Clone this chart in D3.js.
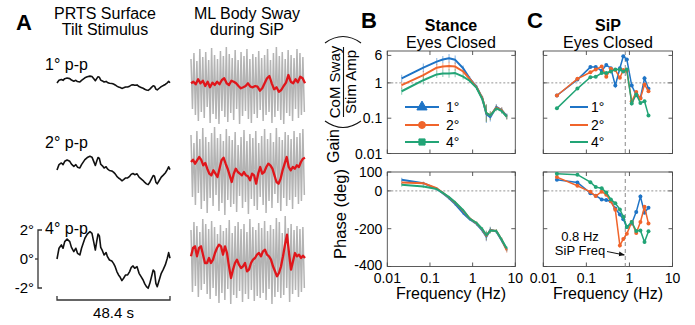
<!DOCTYPE html>
<html>
<head>
<meta charset="utf-8">
<script src="https://cdn.jsdelivr.net/npm/d3@7"></script>
<style>
  body { margin: 0; background: #fff; }
  svg { display: block; font-family: 'Liberation Sans', Arial, Helvetica, sans-serif; }
</style>
</head>
<body>
<svg id="chart" width="695" height="325"></svg>
<script>
// ---- panel A : stimulus (4 deg p-p shape, deg), other rows scaled by amplitude
var stimAmps = [1, 2, 4];
var stimTime = [0, 0.86, 1.87, 2.59, 3.31, 4.32, 5.47, 6.19, 7.20, 8.07, 8.78, 9.79, 10.51, 11.95, 12.96, 14.12,
  14.98, 15.85, 16.42, 17.00, 17.57, 18.15, 18.73, 19.45, 20.17, 21.03, 21.61, 22.47, 23.48, 24.20, 24.92,
  25.64, 26.36, 27.08, 27.80, 28.52, 29.39, 30.25, 31.11, 31.83, 32.56, 33.28, 34.28, 35.15, 36.01, 36.88,
  37.60, 38.32, 39.04, 39.76, 40.48, 41.20, 41.77, 42.35, 42.93, 43.79, 44.66, 45.52, 46.38, 47.25, 47.82, 48.40];
var stimDeg = [0, 0.74, 0.97, 0.74, 1.20, 1.38, 1.20, 0.80, 0.51, 0.74, 0.39, 0.28, 0.74, 1.43, 1.72, 1.89,
  1.77, 1.08, 0.62, 1.20, 1.72, 1.59, 0.80, 0.57, 0.28, 0.44, 0.16, -0.07, -0.14, -0.30, -0.53,
  -0.87, -1.10, -1.26, -1.49, -1.33, -1.10, -1.10, -0.87, -0.57, -0.48, -0.64, -0.53, -0.99, -1.22, -1.45,
  -1.72, -1.91, -2.02, -1.68, -1.22, -0.76, -0.87, -1.68, -1.91, -1.45, -0.99, -0.71, -0.41, 0.05, 0.44, 0.05];

// ---- panel A : ML body sway (arbitrary units), SiP oscillation peaks/troughs per cycle + low-pass (red)
var sipFreq = 0.8;
var swayPeaks = [
  [2.6,3.2,2.4,3.6,2.8,3.3,2.5,3.7,3.0,2.6,3.4,2.9,3.8,3.1,2.7,3.5,2.5,3.3,2.9,3.6,2.6,3.1,2.8,3.4,2.7,3.0,3.6,2.5,3.2,3.8,2.9,3.3,2.6,3.5,3.0,2.7,3.6,3.2,2.8],
  [3.2,2.4,3.6,2.8,3.9,3.0,2.5,3.4,4.0,2.9,3.3,2.6,3.8,3.1,2.7,3.5,2.2,3.0,3.7,2.6,3.3,2.9,3.6,2.4,3.1,3.8,2.8,3.4,2.5,3.9,3.0,2.7,3.5,3.2,2.8,3.6,3.0,3.4,3.8],
  [2.8,3.6,3.2,2.6,3.9,3.4,2.9,3.7,3.1,2.4,3.3,2.7,3.0,3.8,2.5,3.2,3.6,2.9,3.4,2.6,3.9,3.1,2.8,3.5,3.0,3.7,2.7,3.3,2.9,4.0,3.6,2.5,4.2,3.0,3.4,2.8,3.2,2.9,3.1]
];
var swayTroughs = [
  [-2.4,-3.0,-3.6,-2.7,-3.3,-2.2,-3.8,-2.9,-3.4,-3.9,-2.6,-3.2,-3.7,-2.8,-3.5,-2.4,-3.9,-3.1,-2.6,-3.4,-3.8,-2.9,-3.3,-2.5,-3.6,-3.0,-2.7,-3.8,-3.2,-2.6,-3.5,-3.9,-2.8,-3.1,-3.6,-2.4,-3.3,-3.0,-2.7],
  [-3.0,-3.8,-2.6,-4.2,-3.4,-4.6,-3.1,-3.9,-2.8,-4.4,-3.6,-4.8,-3.3,-4.0,-3.7,-4.5,-2.9,-4.1,-3.5,-4.7,-3.2,-3.9,-4.3,-3.0,-3.8,-4.6,-3.4,-4.1,-2.7,-3.6,-4.4,-3.1,-3.9,-3.3,-4.2,-3.0,-3.7,-3.4,-2.8],
  [-3.4,-2.8,-3.9,-3.2,-2.6,-3.6,-4.1,-3.0,-3.8,-4.5,-3.5,-4.2,-3.1,-4.6,-3.7,-4.0,-3.3,-4.4,-3.6,-4.1,-3.2,-4.3,-3.8,-4.0,-3.5,-4.2,-3.1,-4.6,-3.9,-3.4,-4.0,-3.7,-3.0,-4.4,-3.6,-3.2,-3.9,-3.4,-3.0]
];
var swayLow = [
  [0.17,0.33,0.07,0.57,0.17,0.43,-0.1,0.33,-0.23,0.23,0,0.33,0.07,0.5,0.67,0.17,0,0.43,0.33,0.17,-0.1,-0.33,-0.23,-0.1,0.17,-0.17,-0.23,-0.1,-0.17,-0.57,-0.33,0.17,0.67,0.9,0.17,-0.43,-0.23,-0.67,-0.5,-0.1,0.23,1.0,0.33,0.17,0.57,0.27,0.83,0.67,0.17],
  [0.5,0.73,0.33,0.67,1.0,0.73,0.17,0.4,-0.17,-0.67,-0.83,-0.33,-0.67,-1.0,-0.17,0.67,0.93,0.33,-0.17,-0.83,-1.5,-0.67,-0.17,-0.5,-0.67,-0.83,-0.5,-0.83,-0.93,-1.33,-0.67,-0.83,-1.67,-0.67,0,-0.67,-0.5,0,0.33,0.17,-0.17,-0.83,-1.5,-1.67,-1.17,-0.33,0.33,1.0,0,-0.33,0,-0.17,0.17,0,0.5,0.83,0.93],
  [0.17,1.0,1.17,0.17,1.0,1.17,0.33,-0.5,-0.5,0,-0.5,-0.17,0.5,1.0,1.33,1.17,0.33,1.17,0.5,-0.83,-2.0,-1.17,-0.5,-0.17,-0.67,-1.0,-0.83,-0.5,-1.33,-1.17,-0.5,-0.17,0,0.33,0.5,0.17,0.67,0.83,0.33,0.17,-0.17,-0.83,-1.33,-1.83,-1.5,-0.83,0.17,1.33,2.33,0.5,-1.17,-0.33,0.5,0.17,0.33,0,0.23,0]
];

// ---- panel B : stance, eyes closed
var bFreq = [0.0217, 0.07, 0.144, 0.2, 0.28, 0.39, 0.6, 0.85, 1.24, 1.7, 2.1, 2.6, 3.6, 4.8, 6.3];
var bGain = [
  [1.34, 2.7, 4.0, 4.6, 5.0, 4.5, 2.6, 1.34, 0.77, 0.36, 0.13, 0.107, 0.21, 0.17, 0.114],
  [0.86, 1.66, 2.7, 2.9, 3.0, 2.9, 2.1, 1.3, 0.75, 0.36, 0.14, 0.12, 0.2, 0.17, 0.11],
  [0.58, 1.19, 1.74, 1.85, 1.85, 1.9, 1.5, 1.15, 0.72, 0.34, 0.14, 0.12, 0.19, 0.16, 0.11]
];
var bPhase = [
  [59, 41, 11, -12, -39, -70, -118, -150, -175, -210, -242, -205, -215, -262, -310],
  [44, 41, 14, -10, -35, -62, -105, -145, -172, -205, -238, -208, -212, -258, -315],
  [32, 23, 10, -10, -33, -60, -102, -146, -170, -203, -235, -210, -212, -258, -305]
];
var bGainErr = [0.1, 0.12, 0.1, 0.1, 0.12, 0.12, 0.08, 0.06, 0.06, 0.08, 0.25, 0.12, 0.08, 0.08, 0.08];
var bPhaseErr = [10, 8, 6, 6, 8, 8, 8, 8, 10, 12, 25, 15, 10, 10, 12];

// ---- panel C : SiP, eyes closed
var cFreq = [0.0207, 0.062, 0.124, 0.165, 0.227, 0.29, 0.37, 0.47, 0.6, 0.72, 0.87, 1.13, 1.44, 1.8, 2.24, 2.77];
var cGain = [
  [0.44, 1.24, 2.8, 2.8, 2.2, 3.2, 2.6, 0.84, 2.6, 5.7, 4.6, 0.84, 0.45, 0.38, 1.35, 0.68],
  [0.44, 1.3, 2.0, 2.4, 2.9, 1.5, 2.5, 2.3, 1.4, 2.3, 2.2, 0.3, 0.55, 0.36, 0.9, 0.58],
  [0.19, 0.69, 1.44, 1.5, 1.9, 1.9, 2.1, 2.4, 2.4, 2.1, 2.4, 0.26, 0.47, 0.27, 0.3, 0.12]
];
var cPhase = [
  [59, 45, -12, -25, -45, -48, -55, -93, -125, -150, -191, -173, -111, -30, -115, -89],
  [73, 27, -5, -27, -4, -20, -55, -100, -289, -254, -227, -164, -223, -164, -84, -173],
  [91, 86, 46, 20, 14, -9, -45, -66, -98, -137, -191, -164, -212, -209, -271, -214]
];

var seriesNames = ["1°", "2°", "4°"];
var colors = ["#1f74c6", "#f0642b", "#22a476"];
var gainTicks = [0.01, 0.1, 1, 6];
var phaseTicks = [-400, -200, 0, 100];
var freqTicks = [0.01, 0.1, 1, 10];

var svg = d3.select("#chart");
var frameColor = "#4a4a4a";

// ---------------- panel A ----------------
svg.append("text").attr("x", 16).attr("y", 30).attr("font-size", 22).attr("font-weight", "bold").text("A");
svg.append("text").attr("x", 105).attr("y", 19).attr("font-size", 16).attr("text-anchor", "middle").text("PRTS Surface");
svg.append("text").attr("x", 105).attr("y", 35).attr("font-size", 16).attr("text-anchor", "middle").text("Tilt Stimulus");
svg.append("text").attr("x", 247).attr("y", 19).attr("font-size", 16).attr("text-anchor", "middle").text("ML Body Sway");
svg.append("text").attr("x", 247).attr("y", 35).attr("font-size", 16).attr("text-anchor", "middle").text("during SiP");

var xStim = d3.scaleLinear().domain([0, 48.4]).range([57, 170]);
var xSway = d3.scaleLinear().domain([0, 48.4]).range([191, 305]);
var stimZero = [83, 170, 259];
var stimLabelY = [70, 148, 234];
var swayZero = [85, 167, 258];

stimAmps.forEach(function (amp, r) {
  var y = d3.scaleLinear().domain([-2, 2]).range([stimZero[r] + 29, stimZero[r] - 29]);
  var pts = stimTime.map(function (t, i) { return [xStim(t), y(stimDeg[i] * amp / 4)]; });
  svg.append("path").attr("d", d3.line()(pts)).attr("fill", "none")
    .attr("stroke", "#111").attr("stroke-width", 1.6).attr("stroke-linejoin", "round");
  svg.append("text").attr("x", 45).attr("y", stimLabelY[r]).attr("font-size", 16).text(amp + "° p-p");

  // sway: SiP oscillation (grey) and low-pass (red)
  var ys = d3.scaleLinear().domain([-1, 1]).range([swayZero[r] + 10, swayZero[r] - 10]);
  var period = 1 / sipFreq, grey = [];
  swayPeaks[r].forEach(function (p, k) {
    grey.push([xSway(k * period), ys(p)]);
    grey.push([xSway(k * period + period / 2), ys(swayTroughs[r][k])]);
  });
  svg.append("path").attr("d", d3.line()(grey)).attr("fill", "none")
    .attr("stroke", "#b4b4b4").attr("stroke-width", 1.5);
  var n = swayLow[r].length;
  var red = swayLow[r].map(function (v, i) { return [xSway(i * 48.4 / (n - 1)), ys(v)]; });
  svg.append("path").attr("d", d3.line()(red)).attr("fill", "none")
    .attr("stroke", "#e0161b").attr("stroke-width", 2.3).attr("stroke-linejoin", "round");
});

// stimulus amplitude scale bracket and time bar
var yScaleBar = d3.scaleLinear().domain([-2, 2]).range([stimZero[2] + 29, stimZero[2] - 29]);
var sb = svg.append("g").attr("stroke", "#333").attr("stroke-width", 1.3).attr("fill", "none");
sb.append("path").attr("d", "M42," + yScaleBar(2) + "H38V" + yScaleBar(-2) + "H42");
sb.append("line").attr("x1", 35).attr("x2", 38).attr("y1", yScaleBar(0)).attr("y2", yScaleBar(0));
[2, 0, -2].forEach(function (v) {
  svg.append("text").attr("x", 34).attr("y", yScaleBar(v) + 5).attr("font-size", 15)
    .attr("text-anchor", "end").text(v + "°");
});
sb.append("path").attr("d", "M" + xStim(0) + ",296V300H" + xStim(48.4) + "V296");
svg.append("text").attr("x", (xStim(0) + xStim(48.4)) / 2).attr("y", 318).attr("font-size", 15)
  .attr("text-anchor", "middle").text("48.4 s");

// ---------------- panels B and C ----------------
var xB = d3.scaleLog().domain([0.01, 10]).range([387.3, 515.3]);
var xC = d3.scaleLog().domain([0.01, 10]).range([543.3, 672.5]);
var yGain = d3.scaleLog().domain([0.01, 8]).range([153.5, 51]);
var yPhase = d3.scaleLinear().domain([-400, 100]).range([266.5, 172]);

function frame(x, y, yTicks, refVal, yLabels, xLabels) {
  var g = svg.append("g");
  var x0 = x.range()[0], x1 = x.range()[1], yb = y.range()[0], yt = y.range()[1];
  g.append("line").attr("x1", x0).attr("x2", x1).attr("y1", y(refVal)).attr("y2", y(refVal))
    .attr("stroke", "#888").attr("stroke-width", 0.9).attr("stroke-dasharray", "2,2");
  var t = g.append("g").attr("stroke", frameColor).attr("stroke-width", 0.9);
  freqTicks.forEach(function (f) {
    t.append("line").attr("x1", x(f)).attr("x2", x(f)).attr("y1", yb).attr("y2", yb - 4);
    t.append("line").attr("x1", x(f)).attr("x2", x(f)).attr("y1", yt).attr("y2", yt + 4);
    if (xLabels) {
      svg.append("text").attr("x", x(f)).attr("y", yb + 16).attr("font-size", 14)
        .attr("text-anchor", "middle").text(f);
    }
  });
  yTicks.forEach(function (v) {
    t.append("line").attr("x1", x0).attr("x2", x0 + 4).attr("y1", y(v)).attr("y2", y(v));
    t.append("line").attr("x1", x1).attr("x2", x1 - 4).attr("y1", y(v)).attr("y2", y(v));
    if (yLabels) {
      svg.append("text").attr("x", x0 - 5).attr("y", y(v) + (v === -400 ? 3 : 5)).attr("font-size", 14)
        .attr("text-anchor", "end").text(v);
    }
  });
  t.append("rect").attr("x", x0).attr("y", yt).attr("width", x1 - x0).attr("height", yb - yt)
    .attr("fill", "none");
  return g;
}

function clip(id, x, y) {
  svg.append("clipPath").attr("id", id).append("rect")
    .attr("x", x.range()[0]).attr("y", y.range()[1])
    .attr("width", x.range()[1] - x.range()[0]).attr("height", y.range()[0] - y.range()[1]);
}
clip("cbg", xB, yGain); clip("cbp", xB, yPhase); clip("ccg", xC, yGain); clip("ccp", xC, yPhase);

frame(xB, yGain, gainTicks, 1, true, false);
frame(xB, yPhase, phaseTicks, 0, true, true);
frame(xC, yGain, gainTicks, 1, false, false);
frame(xC, yPhase, phaseTicks, 0, false, true);

// SiP frequency marker
svg.append("line").attr("x1", xC(sipFreq)).attr("x2", xC(sipFreq)).attr("y1", yGain.range()[1]).attr("y2", yGain.range()[0])
  .attr("stroke", "#888").attr("stroke-width", 1).attr("stroke-dasharray", "4,3");
svg.append("line").attr("x1", xC(sipFreq)).attr("x2", xC(sipFreq)).attr("y1", yPhase.range()[1]).attr("y2", yPhase.range()[0])
  .attr("stroke", "#888").attr("stroke-width", 1).attr("stroke-dasharray", "4,3");

// B: stance curves with error bars
[[bGain, yGain, "cbg", bGainErr, true], [bPhase, yPhase, "cbp", bPhaseErr, false]].forEach(function (cfg) {
  var data = cfg[0], y = cfg[1], err = cfg[3], isLog = cfg[4];
  var g = svg.append("g").attr("clip-path", "url(#" + cfg[2] + ")");
  data.forEach(function (vals, s) {
    vals.forEach(function (v, i) {
      var lo = isLog ? v / Math.pow(10, err[i]) : v - err[i];
      var hi = isLog ? v * Math.pow(10, err[i]) : v + err[i];
      g.append("line").attr("x1", xB(bFreq[i])).attr("x2", xB(bFreq[i])).attr("y1", y(lo)).attr("y2", y(hi))
        .attr("stroke", colors[s]).attr("stroke-opacity", 0.45).attr("stroke-width", 1.2);
    });
  });
  data.forEach(function (vals, s) {
    var line = d3.line().x(function (d, i) { return xB(bFreq[i]); }).y(function (d) { return y(d); });
    g.append("path").attr("d", line(vals)).attr("fill", "none")
      .attr("stroke", colors[s]).attr("stroke-width", 2).attr("stroke-linejoin", "round");
  });
});

// C: SiP curves with dot markers
[[cGain, yGain, "ccg"], [cPhase, yPhase, "ccp"]].forEach(function (cfg) {
  var y = cfg[1];
  var g = svg.append("g").attr("clip-path", "url(#" + cfg[2] + ")");
  cfg[0].forEach(function (vals, s) {
    var line = d3.line().x(function (d, i) { return xC(cFreq[i]); }).y(function (d) { return y(d); });
    g.append("path").attr("d", line(vals)).attr("fill", "none")
      .attr("stroke", colors[s]).attr("stroke-width", 1.5);
    g.selectAll(null).data(vals).enter().append("circle")
      .attr("cx", function (d, i) { return xC(cFreq[i]); }).attr("cy", function (d) { return y(d); })
      .attr("r", 2).attr("fill", colors[s]);
  });
});

// legends
var legY = [107, 125, 142];
var markers = [d3.symbolTriangle, d3.symbolCircle, d3.symbolSquare];
seriesNames.forEach(function (name, s) {
  svg.append("line").attr("x1", 405).attr("x2", 439).attr("y1", legY[s]).attr("y2", legY[s])
    .attr("stroke", colors[s]).attr("stroke-width", 2);
  svg.append("path").attr("d", d3.symbol().type(markers[s]).size(s === 0 ? 45 : 38)())
    .attr("transform", "translate(422," + legY[s] + ")").attr("fill", colors[s]).attr("stroke", colors[s]);
  svg.append("text").attr("x", 446).attr("y", legY[s] + 5).attr("font-size", 14).text(name);

  svg.append("line").attr("x1", 570).attr("x2", 588).attr("y1", legY[s]).attr("y2", legY[s])
    .attr("stroke", colors[s]).attr("stroke-width", 2);
  svg.append("text").attr("x", 591).attr("y", legY[s] + 5).attr("font-size", 14).text(name);
});

// titles
svg.append("text").attr("x", 361).attr("y", 28).attr("font-size", 22).attr("font-weight", "bold").text("B");
svg.append("text").attr("x", 451).attr("y", 31).attr("font-size", 16).attr("font-weight", "bold").attr("text-anchor", "middle").text("Stance");
svg.append("text").attr("x", 451).attr("y", 48).attr("font-size", 16).attr("text-anchor", "middle").text("Eyes Closed");
svg.append("text").attr("x", 527).attr("y", 28).attr("font-size", 22).attr("font-weight", "bold").text("C");
svg.append("text").attr("x", 608).attr("y", 31).attr("font-size", 16).attr("font-weight", "bold").attr("text-anchor", "middle").text("SiP");
svg.append("text").attr("x", 608).attr("y", 48).attr("font-size", 16).attr("text-anchor", "middle").text("Eyes Closed");

// y labels for B
function vtext(x, y, str, size) {
  svg.append("text").attr("transform", "translate(" + x + "," + y + ") rotate(-90)")
    .attr("font-size", size).attr("text-anchor", "middle").text(str);
}
vtext(339, 146, "Gain", 16);
vtext(339.5, 82, "CoM Sway", 15);
vtext(356, 82, "Stim Amp", 15);
svg.append("line").attr("x1", 343.5).attr("x2", 343.5).attr("y1", 47).attr("y2", 117)
  .attr("stroke", "#111").attr("stroke-width", 1.1);
svg.append("path").attr("d", "M325,43Q343,30 361,43").attr("fill", "none").attr("stroke", "#111").attr("stroke-width", 1.1);
svg.append("path").attr("d", "M325,121Q343,134 361,121").attr("fill", "none").attr("stroke", "#111").attr("stroke-width", 1.1);
vtext(346, 214, "Phase (deg)", 16.5);

svg.append("text").attr("x", 451).attr("y", 299).attr("font-size", 16).attr("text-anchor", "middle").text("Frequency (Hz)");
svg.append("text").attr("x", 608).attr("y", 299).attr("font-size", 16).attr("text-anchor", "middle").text("Frequency (Hz)");

// SiP frequency annotation
svg.append("text").attr("x", 580).attr("y", 241).attr("font-size", 13).attr("text-anchor", "middle").text("0.8 Hz");
svg.append("text").attr("x", 580).attr("y", 255).attr("font-size", 13).attr("text-anchor", "middle").text("SiP Freq");
svg.append("defs").append("marker").attr("id", "arr").attr("viewBox", "0 0 10 10").attr("refX", 9).attr("refY", 5)
  .attr("markerWidth", 6).attr("markerHeight", 6).attr("orient", "auto")
  .append("path").attr("d", "M0,1L10,5L0,9Z").attr("fill", "#111");
svg.append("line").attr("x1", 607).attr("y1", 251.5).attr("x2", xC(sipFreq) - 1).attr("y2", 255)
  .attr("stroke", "#111").attr("stroke-width", 1).attr("marker-end", "url(#arr)");
</script>
</body>
</html>
